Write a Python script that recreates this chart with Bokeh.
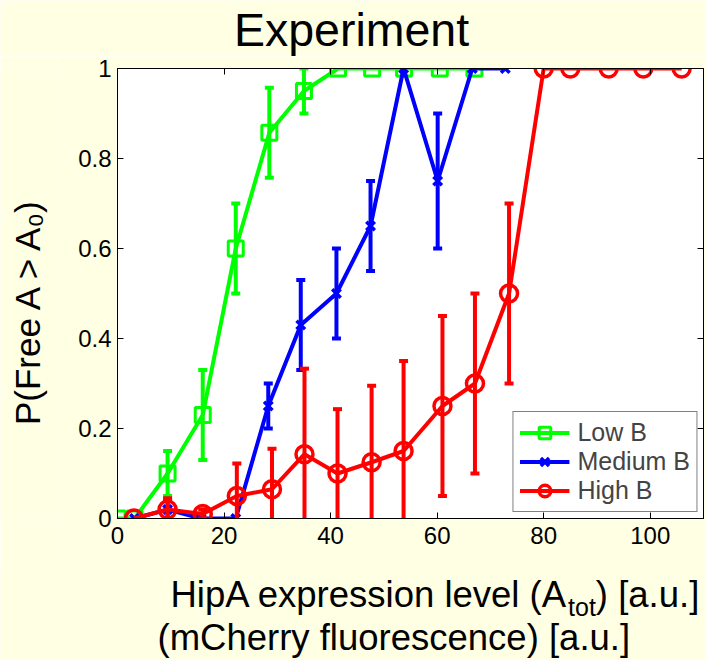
import numpy as np
from bokeh.plotting import figure
from bokeh.layouts import column, row
from bokeh.models import (Range1d, FixedTicker, LinearAxis, Legend, LegendItem, ColumnDataSource,
                          CustomLabelingPolicy)
from bokeh.core.properties import value
from bokeh.embed import file_html
from bokeh.resources import INLINE

# ---------------- data ----------------
low_x = [0, 3.2, 9.4, 16.0, 22.2, 28.5, 35.0, 41.4, 47.8, 53.8, 60.5, 67.0]
low_y = [0, 0, 0.10, 0.23, 0.60, 0.857, 0.95, 1, 1, 1, 1, 1]
low_err = [0, 0, 0.05, 0.10, 0.10, 0.10, 0.05, 0, 0, 0, 0, 0]

med_x = [3.2, 9.4, 15.7, 22.2, 28.3, 34.4, 41.1, 47.5, 53.7, 60.1, 66.6, 72.8]
med_y = [0, 0.02, 0, 0, 0.25, 0.43, 0.50, 0.65, 1, 0.75, 1, 1]
med_err = [0, 0.02, 0, 0, 0.05, 0.10, 0.10, 0.10, 0, 0.15, 0, 0]

high_x = [3.1, 9.4, 16.0, 22.4, 29.0, 35.1, 41.3, 47.7, 53.7, 61.0, 67.1, 73.5, 80.0, 85.0, 92.2, 98.7, 105.9]
high_y = [0, 0.02, 0.01, 0.05, 0.065, 0.143, 0.10, 0.125, 0.15, 0.25, 0.30, 0.50, 1, 1, 1, 1, 1]
high_err = [0, 0.025, 0.01, 0.072, 0.09, 0.19, 0.143, 0.17, 0.20, 0.20, 0.20, 0.20, 0, 0, 0, 0, 0]

series_names = ["Low B", "Medium B", "High B"]
x_ticks = [0, 20, 40, 60, 80, 100]
y_ticks = [0, 0.2, 0.4, 0.6, 0.8, 1]

title_text = "Experiment"
ylabel_text = "P(Free A > A\u2080)"
xlabel1_parts = ["HipA expression level (A", "tot", ") [a.u.]"]
xlabel2_text = "(mCherry fluorescence) [a.u.]"

# ---------------- styling / layout constants ----------------
BG = "#FFFFE3"
FONT = "Liberation Sans"
W, H = 705, 660
TOP_H, LEFT_W = 56, 57
MAIN_TOP, MAIN_BOT = 12, 45
MAIN_H = MAIN_TOP + 450 + MAIN_BOT  # 507
BOT_H = H - TOP_H - MAIN_H          # 97
MAIN_W = W - LEFT_W                 # 648
XMAX = 110
MID = 0.3465                        # baseline lies this many em below the text-box middle

# Arial/Liberation Sans advance widths (per 1000 em) used to chain text pieces
ADV = {' ': 278, '(': 333, ')': 333, '>': 584, '.': 278, '[': 278, ']': 278, '0': 556,
       'A': 667, 'C': 722, 'F': 611, 'H': 722, 'P': 667, 'a': 556, 'c': 500, 'e': 556,
       'f': 278, 'h': 556, 'i': 222, 'l': 222, 'm': 833, 'n': 556, 'o': 556, 'p': 556,
       'r': 333, 's': 500, 't': 278, 'u': 556, 'v': 500, 'x': 500, 'y': 500}

def text_w(s, size):
    return sum(ADV.get(c, 556) for c in s) / 1000.0 * size

def text_fig(w, h):
    f = figure(width=w, height=h, x_range=Range1d(0, w), y_range=Range1d(h, 0),
               output_backend="svg", toolbar_location=None, min_border=0,
               x_axis_type=None, y_axis_type=None, outline_line_color=None,
               background_fill_color=BG, border_fill_color=BG)
    f.title.visible = False
    return f

def put(f, x, y, text, size, align="left", angle=0.0):
    f.text(x=[x], y=[y], text=[text], text_font=value(FONT), text_font_size=value(f"{size}px"),
           text_align=align, text_baseline="middle", text_color="black", angle=angle)

# ---------------- main plot ----------------
p = figure(width=MAIN_W, height=MAIN_H, x_range=Range1d(0, XMAX), y_range=Range1d(0, 1),
           output_backend="svg", toolbar_location=None,
           min_border_left=60, min_border_right=2, min_border_top=MAIN_TOP, min_border_bottom=MAIN_BOT,
           background_fill_color="white", border_fill_color=BG,
           outline_line_color="black", outline_line_width=1)
p.grid.visible = False
p.title.visible = False

def style_axis(ax, ticks, show_labels):
    ax.ticker = FixedTicker(ticks=ticks)
    ax.major_tick_in = 6
    ax.major_tick_out = 0
    ax.minor_tick_in = 0
    ax.minor_tick_out = 0
    ax.major_tick_line_color = "black"
    ax.axis_line_color = "black"
    if show_labels:
        ax.major_label_text_font = FONT
        ax.major_label_text_font_size = "24px"
        ax.major_label_text_color = "black"
    else:
        # mirrored tick marks only (MATLAB box style): draw no labels at all
        ax.major_label_text_font_size = "0px"
        ax.major_label_standoff = 0
        ax.major_label_policy = CustomLabelingPolicy(code="return []")

style_axis(p.xaxis[0], x_ticks, True)
style_axis(p.yaxis[0], y_ticks, True)
p.xaxis[0].major_label_standoff = 8
p.yaxis[0].major_label_standoff = 6
p.yaxis[0].major_label_overrides = {0: "0", 1: "1"}

top_ax = LinearAxis()
right_ax = LinearAxis()
style_axis(top_ax, x_ticks, False)
style_axis(right_ax, y_ticks, False)
p.add_layout(top_ax, "above")
p.add_layout(right_ax, "right")

colors = ["#00FF00", "#0000FF", "#FF0000"]
data = [(low_x, low_y, low_err), (med_x, med_y, med_err), (high_x, high_y, high_err)]
markers = [dict(marker="square", size=15, line_width=3),
           dict(marker="x", size=12, line_width=3.5),
           dict(marker="circle", size=17, line_width=3.5)]

items = []
for name, col, (xs, ys, es), mk in zip(series_names, colors, data, markers):
    xs = np.array(xs, float); ys = np.array(ys, float); es = np.array(es, float)
    m = es > 0
    src_e = ColumnDataSource(dict(x=xs[m], lo=ys[m] - es[m], hi=ys[m] + es[m]))
    src = ColumnDataSource(dict(x=xs, y=ys))
    lr = p.line("x", "y", source=src, line_color=col, line_width=4)
    p.segment(x0="x", y0="lo", x1="x", y1="hi", source=src_e, line_color=col, line_width=4)
    p.scatter("x", "hi", source=src_e, marker="dash", size=9, line_color=col, line_width=4)
    p.scatter("x", "lo", source=src_e, marker="dash", size=9, line_color=col, line_width=4)
    sr = p.scatter("x", "y", source=src, fill_color=None, line_color=col, **mk)
    items.append(LegendItem(label=name, renderers=[lr, sr]))

legend = Legend(items=items, location="bottom_right",
                border_line_color="black", border_line_width=1,
                background_fill_color="white", background_fill_alpha=1,
                label_text_font=FONT, label_text_font_size="25px",
                glyph_width=50, glyph_height=29, label_height=29,
                label_standoff=8, spacing=0, padding=6, margin=6)
p.add_layout(legend)

# ---------------- title (top strip) ----------------
top_fig = text_fig(W, TOP_H)
TS = 46.5
put(top_fig, 351, 46 - MID * TS, title_text, TS, "center")

# ---------------- y label (left strip), rotated ----------------
left_fig = text_fig(LEFT_W, MAIN_H)
YS = 35
put(left_fig, 39 - MID * YS, 328.5 - TOP_H, ylabel_text, YS, "center", np.pi / 2)

# ---------------- x label (bottom strip), two lines, with subscript ----------------
bot_fig = text_fig(W, BOT_H)
XS, XSUB = 36.5, 25
off = TOP_H + MAIN_H
x0 = 170
x1 = x0 + text_w(xlabel1_parts[0], XS)
x2 = x1 + text_w(xlabel1_parts[1], XSUB)
put(bot_fig, x0, 607 - off - MID * XS, xlabel1_parts[0], XS)
put(bot_fig, x1, 615 - off - MID * XSUB, xlabel1_parts[1], XSUB)
put(bot_fig, x2, 607 - off - MID * XS, xlabel1_parts[2], XS)
put(bot_fig, 157, 650 - off - MID * XS, xlabel2_text, XS)

layout = column(top_fig, row(left_fig, p, spacing=0), bot_fig, spacing=0)
open("out.html", "w").write(file_html(layout, INLINE))
